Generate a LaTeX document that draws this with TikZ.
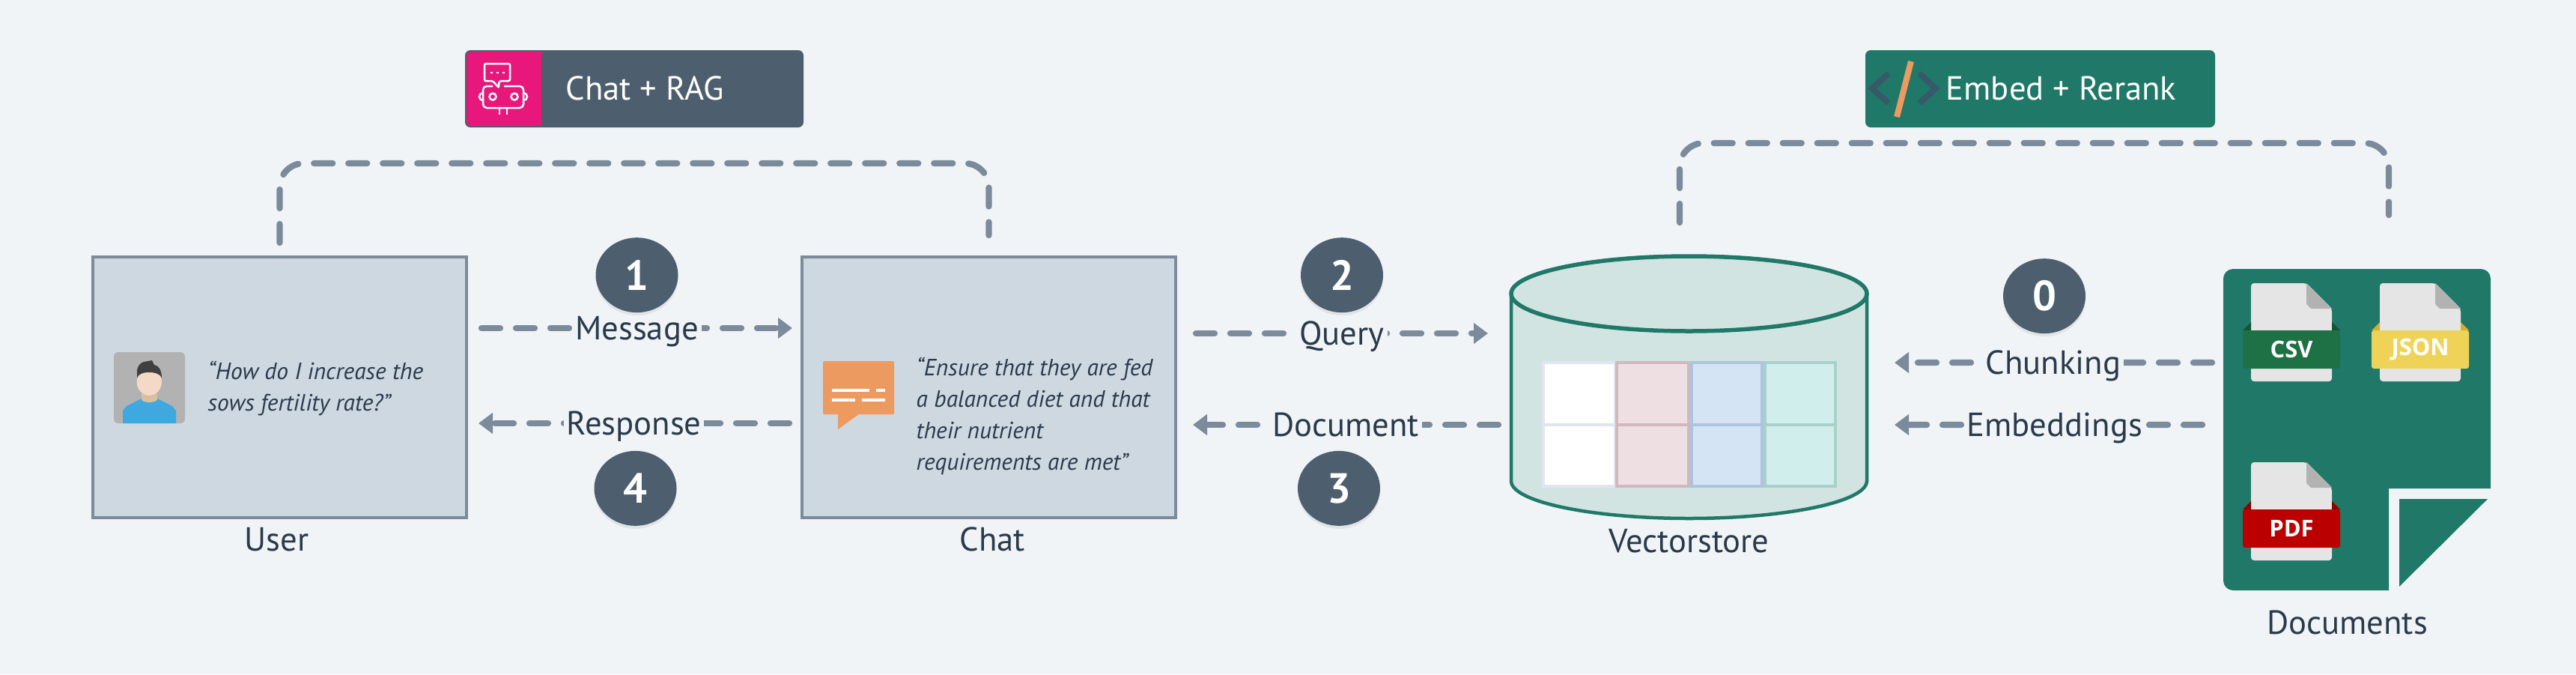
\documentclass[tikz,border=0pt]{standalone}
\usepackage{fontspec}
\setmainfont{PT Sans}
\newfontfamily\filefont{Open Sans}
\usepackage{xcolor}
\usepackage{tikz}
\usetikzlibrary{shapes.geometric, arrows.meta, positioning, shadows}

\definecolor{pagebg}{HTML}{F0F4F7}
\definecolor{slate}{HTML}{4D5F6F}
\definecolor{flowgrey}{HTML}{7B8B9B}
\definecolor{boxfill}{HTML}{CDD8E1}
\definecolor{inktext}{HTML}{2A3A4B}
\definecolor{teal}{HTML}{207868}
\definecolor{tealpale}{HTML}{D2E4E1}
\definecolor{ragpink}{HTML}{E8177C}
\definecolor{orangeicon}{HTML}{EC9A60}
\definecolor{codeblue}{HTML}{37596A}
\definecolor{shirtblue}{HTML}{3FA9DF}
\definecolor{neckskin}{HTML}{D9BFA0}
\definecolor{faceskin}{HTML}{F3D9C6}

\begin{document}
\begin{tikzpicture}[
    panel/.style={rectangle, draw=flowgrey, fill=boxfill, line width=.045cm, minimum width=4.99cm, minimum height=3.48cm, outer sep=0pt},
    flow/.style={draw=flowgrey, line width=.083cm, line cap=round, dash pattern=on .25cm off .21cm},
    arrow/.style={flow, -{Triangle[length=.19cm, width=.27cm]}},
    flowlabel/.style={fill=pagebg, text=inktext, font=\fontsize{12.7}{15}\selectfont, inner xsep=.04cm, inner ysep=0pt, text height=.3cm, text depth=0pt},
    caption/.style={text=inktext, font=\fontsize{12.7}{15}\selectfont, inner sep=0pt, text height=.3cm, text depth=0pt},
    quote/.style={text=inktext, font=\fontsize{8.95}{11.95}\selectfont\itshape, align=left, inner sep=0pt},
    stepmark/.style={ellipse, fill=slate, text=white, minimum width=1.1cm, minimum height=1cm, inner sep=0pt, font=\fontsize{16}{20}\selectfont\bfseries, drop shadow={shadow xshift=0cm, shadow yshift=-.04cm, opacity=.13}},
    tagbox/.style={rectangle, rounded corners=.07cm, minimum height=1.03cm, outer sep=0pt},
    tagtext/.style={text=white, font=\fontsize{12.7}{15}\selectfont, inner sep=0pt, text height=.3cm, text depth=0pt},
    icon/.style={draw=white, line width=.025cm}
]

\fill[pagebg] (0,0) rectangle (34.4,-9);
\useasboundingbox (0,0) rectangle (34.4,-9);

% main blocks
\node[panel] (user) at (3.735,-5.17) {};
\node[panel, right=4.48cm of user] (chat) {};
\node[minimum width=4.75cm, minimum height=3.5cm, inner sep=0pt, outer sep=0pt] (vectorstore) at (22.555,-5.17) {};
\node[minimum width=3.57cm, minimum height=4.29cm, inner sep=0pt, outer sep=0pt] (documents) at (31.475,-5.735) {};

\node[caption, below=.14cm of user, xshift=-.04cm] (userlabel) {User};
\node[caption, below=.14cm of chat, xshift=.05cm] (chatlabel) {Chat};
\node[caption, below=.15cm of vectorstore] (storelabel) {Vectorstore};
\node[caption, below=.28cm of documents, xshift=-.13cm] (docslabel) {Documents};

% avatar
\node[rectangle, fill=black!30, rounded corners=.06cm, minimum size=.95cm, inner sep=0pt] (usericon) at (1.995,-5.175) {};
\fill[shirtblue] (1.64,-5.65) -- (1.64,-5.48) -- (1.69,-5.42) -- (1.89,-5.32) .. controls (1.93,-5.37) and (2.06,-5.37) .. (2.10,-5.32) -- (2.30,-5.42) -- (2.35,-5.48) -- (2.35,-5.65) -- cycle;
\fill[neckskin] (1.89,-5.2) rectangle (2.10,-5.33);
\fill[neckskin] (1.995,-5.33) ellipse (.105 and .04);
\fill[faceskin] (1.993,-5.095) ellipse (.167 and .183);
\fill[black!75] (1.83,-5.05) -- (1.83,-4.94) .. controls (1.84,-4.88) and (1.88,-4.84) .. (1.92,-4.83) -- (2.03,-4.81) -- (2.06,-4.87) .. controls (2.12,-4.88) and (2.16,-4.94) .. (2.16,-5.05) .. controls (2.14,-4.98) and (2.05,-4.97) .. (1.99,-4.97) .. controls (1.93,-4.97) and (1.85,-4.98) .. (1.83,-5.05) -- cycle;
\node[quote, anchor=west] (usertext) at (2.77,-5.19) {``How do I increase the\\sows fertility rate?''};

% chat bubble
\fill[orangeicon, rounded corners=.02cm] (10.99,-4.82) rectangle (11.94,-5.53);
\fill[orangeicon] (11.19,-5.5) -- (11.19,-5.73) -- (11.51,-5.5) -- cycle;
\node[minimum width=.95cm, minimum height=.91cm, inner sep=0pt] (chaticon) at (11.465,-5.275) {};
\foreach \xa/\xb/\ya in {11.11/11.61/5.21, 11.70/11.82/5.21, 11.11/11.42/5.34, 11.51/11.82/5.34}
    \fill[white] (\xa,-\ya+.02) rectangle (\xb,-\ya-.02);
\node[quote, anchor=west] (chattext) at (12.23,-5.55) {``Ensure that they are fed\\a balanced diet and that\\their nutrient\\requirements are met''};

% the store
\draw[teal, fill=tealpale, line width=.045cm] ([yshift=-.5cm]vectorstore.north west) -- ([yshift=.5cm]vectorstore.south west) arc (180:360:2.375 and .5) -- ([yshift=-.5cm]vectorstore.north east) arc (0:180:2.375 and .5) -- cycle;
\draw[teal, line width=.055cm] ([yshift=-.5cm]vectorstore.north) ellipse (2.375 and .5);

% table inside the store
\foreach \xa/\xb/\tint/\tedge in {20.61/21.57/FFFFFF/E0E5EE, 21.59/22.55/EEE0E2/D1B8BC, 22.59/23.53/D4E4F4/ADC4DE, 23.57/24.51/CFEEEC/A9D1C9}{
    \definecolor{celltint}{HTML}{\tint}
    \definecolor{celledge}{HTML}{\tedge}
    \draw[line width=.04cm, draw=celledge, fill=celltint] (\xa,-4.84) rectangle (\xb,-5.67);
    \draw[line width=.04cm, draw=celledge, fill=celltint] (\xa,-5.67) rectangle (\xb,-6.49);
}

% documents sheet
\fill[teal] (29.69,-5.5) [rounded corners=.13cm] -- (29.69,-3.59) -- (33.26,-3.59) [sharp corners] -- (33.26,-6.52) -- (31.9,-6.52) -- (31.9,-7.88) [rounded corners=.13cm] -- (29.69,-7.88) -- cycle;
\fill[teal] (32.04,-6.66) -- (33.22,-6.66) -- (32.04,-7.83) -- cycle;

% file icons
\foreach \fx/\fy/\fband/\fdark/\ftext in {30.06/3.78/1E7145/155534/CSV, 31.78/3.78/EFD358/D4AF2B/JSON, 30.06/6.17/BB0000/8E0000/PDF}{
    \definecolor{bandcol}{HTML}{\fband}
    \definecolor{darkcol}{HTML}{\fdark}
    \begin{scope}[shift={(\fx,-\fy)}]
    \fill[black!10, rounded corners=.04cm] (0,0) -- (.74,0) -- (1.08,-.34) -- (1.08,-1.31) -- (0,-1.31) -- cycle;
    \fill[black!30] (.74,0) -- (1.08,-.34) -- (.80,-.34) -- (.74,-.28) -- cycle;
    \fill[darkcol] (-.11,-.63) -- (0,-.52) -- (0,-.63) -- cycle;
    \fill[darkcol] (1.19,-.63) -- (1.08,-.52) -- (1.08,-.63) -- cycle;
    \fill[bandcol, rounded corners=.03cm] (-.11,-.63) rectangle (1.19,-1.14);
    \node[text=white, font=\fontsize{8.8}{10}\filefont\bfseries, inner sep=0pt] at (.54,-.885) {\ftext};
    \end{scope}
}

% labelled connectors
\draw[arrow] ([xshift=.20cm,yshift=.79cm]user.east) -- node[flowlabel] (msglabel) {Message} ([xshift=-.13cm,yshift=.79cm]chat.west);
\draw[arrow] ([xshift=-.17cm,yshift=-.48cm]chat.west) -- node[flowlabel] (resplabel) {Response} ([xshift=.16cm,yshift=-.48cm]user.east);
\draw[arrow] ([xshift=.27cm,yshift=.72cm]chat.east) -- node[flowlabel] (querylabel) {Query} ([xshift=-.31cm,yshift=.72cm]vectorstore.west);
\draw[arrow] ([xshift=-.17cm,yshift=-.50cm]vectorstore.west) -- node[flowlabel] (doclabel) {Document} ([xshift=.23cm,yshift=-.50cm]chat.east);
\draw[arrow] ([xshift=-.15cm,yshift=.895cm]documents.west) -- node[flowlabel] (chunklabel) {Chunking} ([xshift=.37cm,yshift=.33cm]vectorstore.east);
\draw[arrow] ([xshift=-.28cm,yshift=.065cm]documents.west) -- node[flowlabel, pos=.48] (embedlabel) {Embeddings} ([xshift=.37cm,yshift=-.50cm]vectorstore.east);

% numbered marks
\node[stepmark, above=.01cm of msglabel] (stepone) {1};
\node[stepmark, below=.17cm of resplabel, xshift=.02cm] (stepfour) {4};
\node[stepmark, above=.08cm of querylabel] (steptwo) {2};
\node[stepmark, below=.15cm of doclabel, xshift=-.09cm] (stepthree) {3};
\node[stepmark, above=.19cm of chunklabel, xshift=-.12cm] (stepzero) {0};

% top links
\draw[flow, rounded corners=.32cm] ([yshift=.19cm]user.north) -- ++(0,1.06) -| ([yshift=.29cm]chat.north);
\draw[flow, rounded corners=.32cm] ([xshift=-.125cm,yshift=.45cm]vectorstore.north) -- ++(0,1.06) -| ([xshift=.425cm,yshift=.72cm]documents.north);

% tags
\node[tagbox, fill=slate, minimum width=4.52cm] (chattag) at (8.47,-1.185) {};
\node[tagbox, fill=ragpink, minimum width=1cm, minimum height=.99cm, rounded corners=.05cm] (chatpink) at (6.73,-1.185) {};
\fill[ragpink] ([xshift=-.1cm]chatpink.north east) rectangle (chatpink.south east);
\node[tagtext, right=.32cm of chatpink] (chattaglabel) {Chat + RAG};
\draw[icon, rounded corners=.02cm] (6.47,-.85) -- (6.81,-.85) -- (6.81,-1.08) -- (6.665,-1.08) -- (6.66,-1.17) -- (6.58,-1.08) -- (6.47,-1.08) -- cycle;
\draw[icon, rounded corners=.05cm] (6.58,-1.15) -- (6.45,-1.15) -- (6.45,-1.44) -- (6.99,-1.44) -- (6.99,-1.15) -- (6.73,-1.15);
\draw[icon] (6.58,-1.29) circle (.045);
\draw[icon] (6.87,-1.29) circle (.045);
\draw[icon] (6.45,-1.24) arc (90:270:.05);
\draw[icon] (6.99,-1.24) arc (90:-90:.05);
\draw[icon] (6.67,-1.45) -- (6.67,-1.53);
\draw[icon] (6.77,-1.45) -- (6.77,-1.53);
\foreach \dotx in {6.56,6.64,6.72}
    \draw[icon] (\dotx-.015,-.97) -- (\dotx+.015,-.97);

\node[tagbox, fill=teal, minimum width=4.67cm] (embedtag) at (27.245,-1.185) {};
\node[tagtext, anchor=west] (embedtaglabel) at (25.98,-1.185) {Embed + Rerank};
\draw[codeblue, line width=.08cm] (25.22,-.98) -- (25.00,-1.18) -- (25.22,-1.38);
\draw[codeblue, line width=.08cm] (25.63,-.98) -- (25.85,-1.18) -- (25.63,-1.38);
\draw[orangeicon, line width=.08cm] (25.52,-.82) -- (25.33,-1.56);

\end{tikzpicture}
\end{document}
